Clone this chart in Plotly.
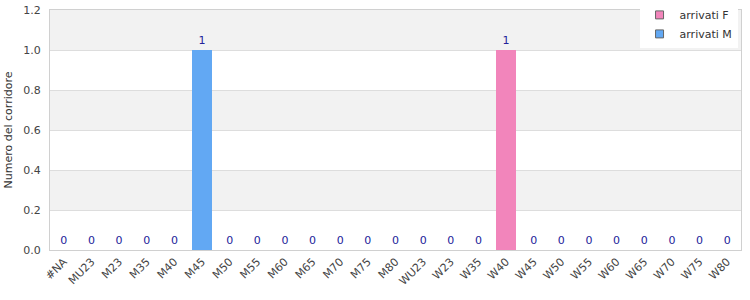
import plotly.graph_objects as go

categories = ["#NA", "MU23", "M23", "M35", "M40", "M45", "M50", "M55", "M60", "M65",
              "M70", "M75", "M80", "WU23", "W23", "W35", "W40", "W45", "W50", "W55",
              "W60", "W65", "W70", "W75", "W80"]
m_values = [0, 0, 0, 0, 0, 1, 0, 0, 0, 0, 0, 0, 0, None, None, None, None, None, None, None,
            None, None, None, None, None]
f_values = [None, None, None, None, None, None, None, None, None, None, None, None, None,
            0, 0, 0, 1, 0, 0, 0, 0, 0, 0, 0, 0]
y_ticks = [0.0, 0.2, 0.4, 0.6, 0.8, 1.0, 1.2]

F_COLOR = "#f285bb"
M_COLOR = "#62a8f3"
LABEL_COLOR = "#22229a"

def txt(vals):
    return ["" if v is None else str(v) for v in vals]

fig = go.Figure()
fig.add_trace(go.Bar(x=categories, y=f_values, name="arrivati F", showlegend=False,
                     marker=dict(color=F_COLOR, line=dict(width=0)),
                     text=txt(f_values), textposition="outside", cliponaxis=False,
                     outsidetextfont=dict(color=LABEL_COLOR, size=11, family="DejaVu Sans")))
fig.add_trace(go.Bar(x=categories, y=m_values, name="arrivati M", showlegend=False,
                     marker=dict(color=M_COLOR, line=dict(width=0)),
                     text=txt(m_values), textposition="outside", cliponaxis=False,
                     outsidetextfont=dict(color=LABEL_COLOR, size=11, family="DejaVu Sans")))
# legend entries
for name, col in [("arrivati F", F_COLOR), ("arrivati M", M_COLOR)]:
    fig.add_trace(go.Scatter(x=[None], y=[None], mode="markers", name=name,
                             marker=dict(symbol="square", size=8, color=col,
                                         line=dict(color="#666", width=1))))

# alternating bands
for i in range(len(y_ticks) - 1):
    if i % 2 == 1:
        fig.add_shape(type="rect", xref="paper", yref="y", x0=0, x1=1,
                      y0=y_ticks[i], y1=y_ticks[i + 1],
                      fillcolor="#f2f2f2", line=dict(width=0), layer="below")

fig.update_layout(
    width=750, height=300,
    margin=dict(l=50, r=9, t=10, b=50, autoexpand=False),
    barmode="stack", bargap=0.28,
    plot_bgcolor="white", paper_bgcolor="white",
    font=dict(family="DejaVu Sans", size=11, color="#444"),
    legend=dict(x=0.995, y=1.04, xanchor="right", yanchor="top",
                bgcolor="white", font=dict(size=11, color="#333"),
                traceorder="normal", itemwidth=30, tracegroupgap=0,
                borderwidth=0),
    showlegend=True,
)
fig.update_xaxes(tickangle=-45, tickfont=dict(size=11, color="#444"),
                 showline=True, linecolor="#d0d0d0", mirror=True, ticks="")
fig.update_yaxes(range=[0, 1.2], tickvals=y_ticks, tickformat=".1f",
                 tickfont=dict(size=11, color="#444"), ticklabelstandoff=6,
                 title=dict(text="Numero del corridore", font=dict(size=11, color="#333"),
                            standoff=8),
                 showgrid=True, gridcolor="#dddddd", zeroline=False,
                 showline=True, linecolor="#d0d0d0", mirror=True)

fig.write_html("out.html")
